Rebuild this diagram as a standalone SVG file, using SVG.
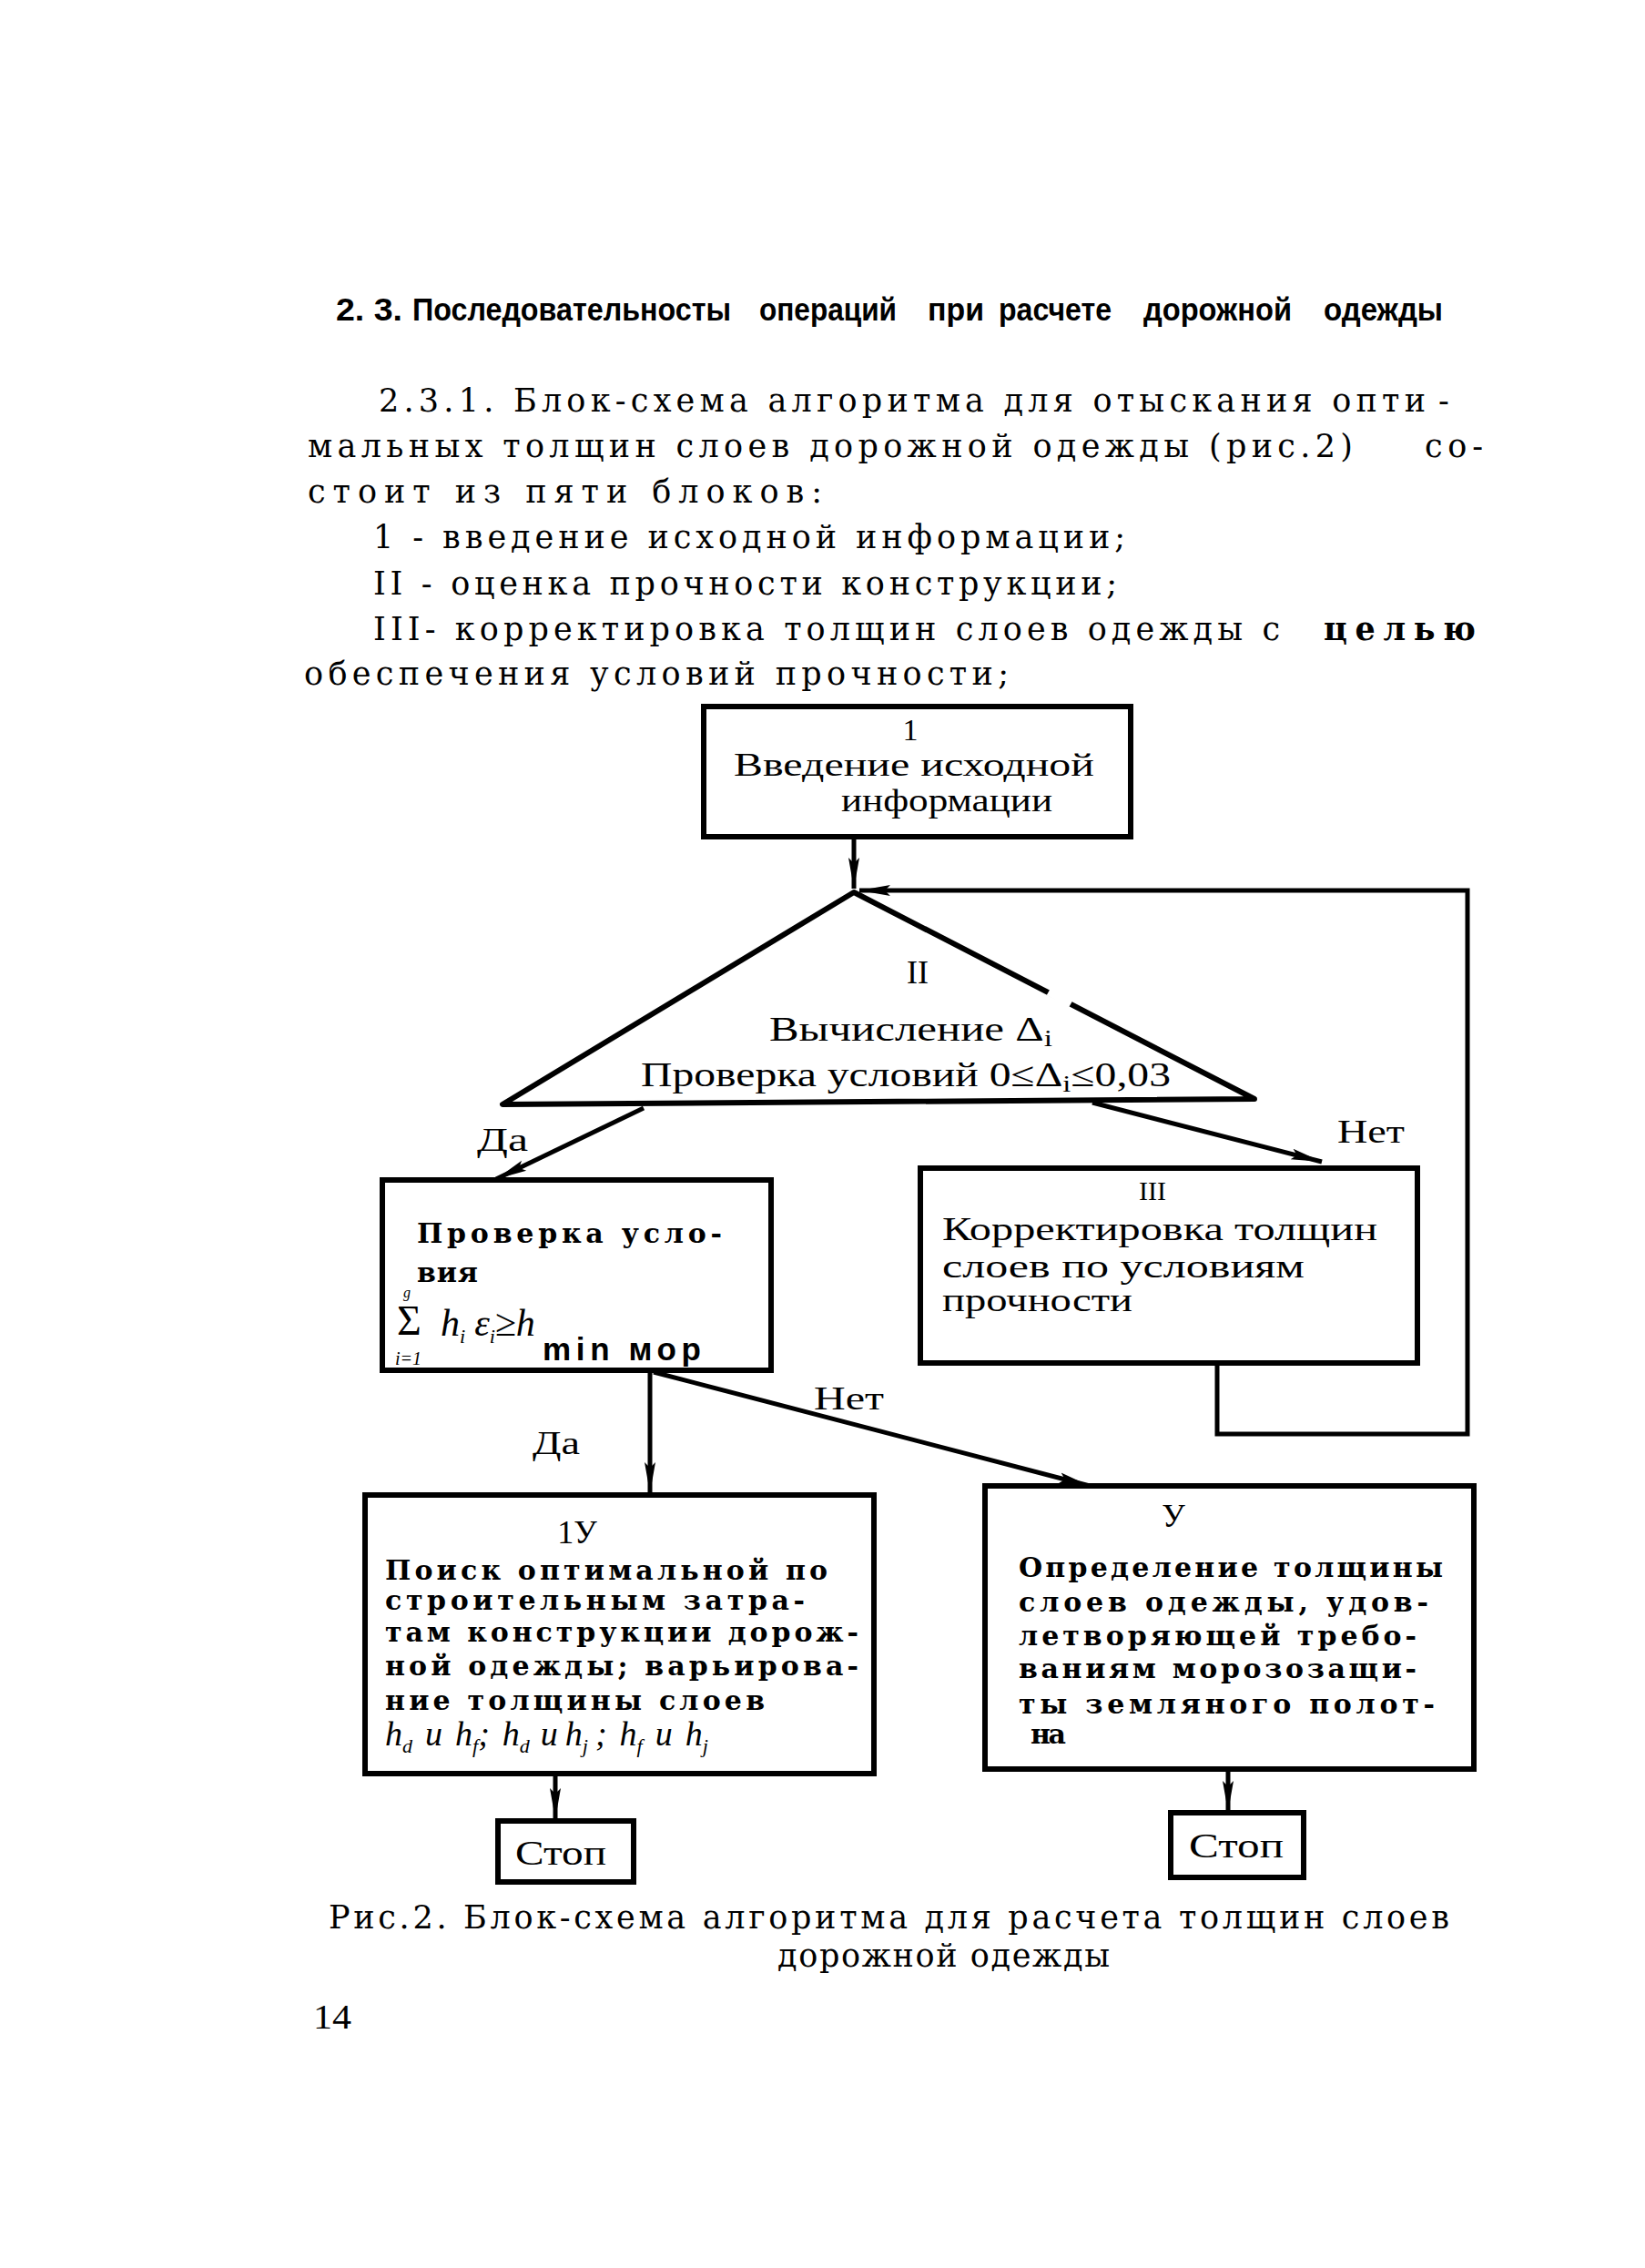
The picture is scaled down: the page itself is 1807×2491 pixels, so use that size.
<svg xmlns="http://www.w3.org/2000/svg" width="1807" height="2491" viewBox="0 0 1807 2491">
<defs>
<style>
.s{font-family:"Liberation Serif","DejaVu Serif",serif;fill:#000}
.p{font-family:"DejaVu Serif","Liberation Serif",serif;fill:#000;font-size:35px}
.w{font-family:"DejaVu Serif","Liberation Serif",serif;fill:#000;font-weight:bold;font-size:30px}
.t{font-family:"Liberation Sans","DejaVu Sans",sans-serif;font-weight:bold;fill:#000;font-size:35px}
.box{fill:none;stroke:#000;stroke-width:6}
.ln{fill:none;stroke:#000;stroke-width:5}
</style>
<marker id="ah" markerUnits="userSpaceOnUse" markerWidth="40" markerHeight="20" refX="34" refY="8" orient="auto" viewBox="0 0 40 16">
<path d="M0,2 L34,8 L0,14 L6,8 Z" fill="#000"/>
</marker>
</defs>
<rect width="1807" height="2491" fill="#fff"/>

<g id="page-text">
<text class="t" x="369" y="352" textLength="73" lengthAdjust="spacingAndGlyphs">2. 3.</text>
<text class="t" x="453" y="352" textLength="350" lengthAdjust="spacingAndGlyphs">Последовательносты</text>
<text class="t" x="834" y="352" textLength="151" lengthAdjust="spacingAndGlyphs">операций</text>
<text class="t" x="1019" y="352" textLength="62" lengthAdjust="spacingAndGlyphs">при</text>
<text class="t" x="1097" y="352" textLength="124" lengthAdjust="spacingAndGlyphs">расчете</text>
<text class="t" x="1256" y="352" textLength="163" lengthAdjust="spacingAndGlyphs">дорожной</text>
<text class="t" x="1454" y="352" textLength="131" lengthAdjust="spacingAndGlyphs">одежды</text>

<text class="p" x="416" y="452" textLength="1150" lengthAdjust="spacing">2.3.1. Блок-схема алгоритма для отыскания опти</text>
<text class="p" x="1580" y="452">-</text>
<text class="p" x="338" y="502" textLength="1148" lengthAdjust="spacing">мальных толщин слоев дорожной одежды (рис.2)</text>
<text class="p" x="1565" y="502" textLength="64" lengthAdjust="spacing">со-</text>
<text class="p" x="338" y="552" textLength="565" lengthAdjust="spacing">стоит из пяти блоков:</text>
<text class="p" x="410" y="602" textLength="826" lengthAdjust="spacing">1 - введение исходной информации;</text>
<text class="p" x="410" y="653" textLength="817" lengthAdjust="spacing">II - оценка прочности конструкции;</text>
<text class="p" x="410" y="703" textLength="996" lengthAdjust="spacing">III- корректировка толщин слоев одежды с</text>
<text class="p" x="1454" y="703" font-weight="bold" textLength="167" lengthAdjust="spacing">целью</text>
<text class="p" x="334" y="752" textLength="774" lengthAdjust="spacing">обеспечения условий прочности;</text>
</g>

<g id="connectors">
<line class="ln" x1="938" y1="920" x2="938" y2="976" marker-end="url(#ah)"/>
<polyline class="ln" points="1337,1497 1337,1575 1612,1575 1612,978 944,978" marker-end="url(#ah)"/>
<line class="ln" x1="707" y1="1217" x2="545" y2="1295" marker-end="url(#ah)"/>
<line class="ln" x1="1200" y1="1211" x2="1452" y2="1276" marker-end="url(#ah)"/>
<line class="ln" x1="714" y1="1505" x2="714" y2="1640" marker-end="url(#ah)"/>
<line class="ln" x1="718" y1="1507" x2="1197" y2="1632" marker-end="url(#ah)"/>
<line class="ln" x1="610" y1="1948" x2="610" y2="1998" marker-end="url(#ah)"/>
<line class="ln" x1="1349" y1="1943" x2="1349" y2="1990" marker-end="url(#ah)"/>
<text class="s" x="524" y="1264" font-size="36" textLength="56" lengthAdjust="spacingAndGlyphs">Да</text>
<text class="s" x="1469" y="1255" font-size="36" textLength="74" lengthAdjust="spacingAndGlyphs">Нет</text>
<text class="s" x="585" y="1597" font-size="36" textLength="52" lengthAdjust="spacingAndGlyphs">Да</text>
<text class="s" x="894" y="1548" font-size="36" textLength="77" lengthAdjust="spacingAndGlyphs">Нет</text>
</g>

<g id="node-1">
<rect class="box" x="773" y="776" width="469" height="143"/>
<text class="s" x="1000" y="813" font-size="34" text-anchor="middle">1</text>
<text class="s" x="806" y="852" font-size="36" textLength="396" lengthAdjust="spacingAndGlyphs">Введение исходной</text>
<text class="s" x="924" y="891" font-size="36" textLength="232" lengthAdjust="spacingAndGlyphs">информации</text>
</g>

<g id="node-2">
<path class="box" d="M938,980 L552,1213 L1378,1207 Z" stroke-linejoin="round"/>
<line x1="1152" y1="1089" x2="1176" y2="1103" stroke="#fff" stroke-width="9"/>
<text class="s" x="1008" y="1080" font-size="36" text-anchor="middle">II</text>
<text class="s" x="845" y="1143" font-size="38" textLength="311" lengthAdjust="spacingAndGlyphs">Вычисление Δ<tspan font-size="26" dy="6">i</tspan></text>
<text class="s" x="704" y="1193" font-size="38" textLength="582" lengthAdjust="spacingAndGlyphs">Проверка условий 0≤Δ<tspan font-size="26" dy="6">i</tspan><tspan dy="-6">≤0,03</tspan></text>
</g>

<g id="node-3">
<rect class="box" x="420" y="1296" width="427" height="209"/>
<text class="w" x="458" y="1365" textLength="335" lengthAdjust="spacing">Проверка усло-</text>
<text class="w" x="458" y="1408" textLength="67" lengthAdjust="spacing">вия</text>
<text class="s" x="443" y="1425" font-size="16" font-style="italic">g</text>
<text class="s" x="436" y="1466" font-size="46">Σ</text>
<text class="s" x="434" y="1499" font-size="20" font-style="italic">i=1</text>
<text class="s" x="484" y="1467" font-size="42" font-style="italic">h<tspan font-size="22" dy="8">i</tspan><tspan dx="10" dy="-8">ε</tspan><tspan font-size="22" dy="8">i</tspan><tspan dy="-8">≥h</tspan></text>
<text class="t" x="596" y="1494" font-size="24" textLength="174" lengthAdjust="spacing">min мор</text>
</g>

<g id="node-4">
<rect class="box" x="1011" y="1283" width="546" height="214"/>
<text class="s" x="1266" y="1318" font-size="30" text-anchor="middle">III</text>
<text class="s" x="1035" y="1362" font-size="36" textLength="478" lengthAdjust="spacingAndGlyphs">Корректировка толщин</text>
<text class="s" x="1035" y="1403" font-size="36" textLength="398" lengthAdjust="spacingAndGlyphs">слоев по условиям</text>
<text class="s" x="1035" y="1440" font-size="36" textLength="209" lengthAdjust="spacingAndGlyphs">прочности</text>
</g>

<g id="node-5">
<rect class="box" x="401" y="1642" width="559" height="306"/>
<text class="s" x="634" y="1695" font-size="36" text-anchor="middle">1У</text>
<text class="w" x="423" y="1735" textLength="486" lengthAdjust="spacing">Поиск оптимальной по</text>
<text class="w" x="423" y="1768" textLength="461" lengthAdjust="spacing">строительным затра-</text>
<text class="w" x="423" y="1803" textLength="520" lengthAdjust="spacing">там конструкции дорож-</text>
<text class="w" x="423" y="1840" textLength="520" lengthAdjust="spacing">ной одежды; варьирова-</text>
<text class="w" x="423" y="1878" textLength="417" lengthAdjust="spacing">ние толщины слоев</text>
<text class="s" x="423" y="1917" font-size="38" font-style="italic">h<tspan font-size="22" dy="8">d</tspan><tspan dx="14" dy="-8">и</tspan><tspan dx="14">h</tspan><tspan font-size="22" dy="8">f</tspan><tspan dy="-8">;</tspan><tspan dx="14">h</tspan><tspan font-size="22" dy="8">d</tspan><tspan dx="12" dy="-8">и</tspan><tspan dx="8">h</tspan><tspan font-size="22" dy="8">j</tspan><tspan dx="8" dy="-8">;</tspan><tspan dx="14">h</tspan><tspan font-size="22" dy="8">f</tspan><tspan dx="14" dy="-8">и</tspan><tspan dx="14">h</tspan><tspan font-size="22" dy="8">j</tspan></text>
</g>

<g id="node-6">
<rect class="box" x="1082" y="1632" width="537" height="311"/>
<text class="s" x="1289" y="1677" font-size="36" text-anchor="middle">У</text>
<text class="w" x="1119" y="1732" textLength="466" lengthAdjust="spacing">Определение толщины</text>
<text class="w" x="1119" y="1770" textLength="450" lengthAdjust="spacing">слоев одежды, удов-</text>
<text class="w" x="1119" y="1807" textLength="437" lengthAdjust="spacing">летворяющей требо-</text>
<text class="w" x="1119" y="1843" textLength="437" lengthAdjust="spacing">ваниям морозозащи-</text>
<text class="w" x="1119" y="1882" textLength="457" lengthAdjust="spacing">ты земляного полот-</text>
<text class="w" x="1132" y="1915" textLength="39" lengthAdjust="spacing">на</text>
</g>

<g id="node-7">
<rect class="box" x="547" y="2000" width="149" height="67"/>
<text class="s" x="566" y="2048" font-size="38" textLength="100" lengthAdjust="spacingAndGlyphs">Стоп</text>
</g>

<g id="node-8">
<rect class="box" x="1286" y="1991" width="146" height="71"/>
<text class="s" x="1306" y="2040" font-size="38" textLength="104" lengthAdjust="spacingAndGlyphs">Стоп</text>
</g>

<g id="caption">
<text class="p" x="361" y="2118" font-size="32" textLength="1231" lengthAdjust="spacing">Рис.2. Блок-схема алгоритма для расчета толщин слоев</text>
<text class="p" x="854" y="2160" font-size="32" textLength="365" lengthAdjust="spacing">дорожной одежды</text>
<text class="s" x="344" y="2228" font-size="38" textLength="42" lengthAdjust="spacingAndGlyphs">14</text>
</g>
</svg>
